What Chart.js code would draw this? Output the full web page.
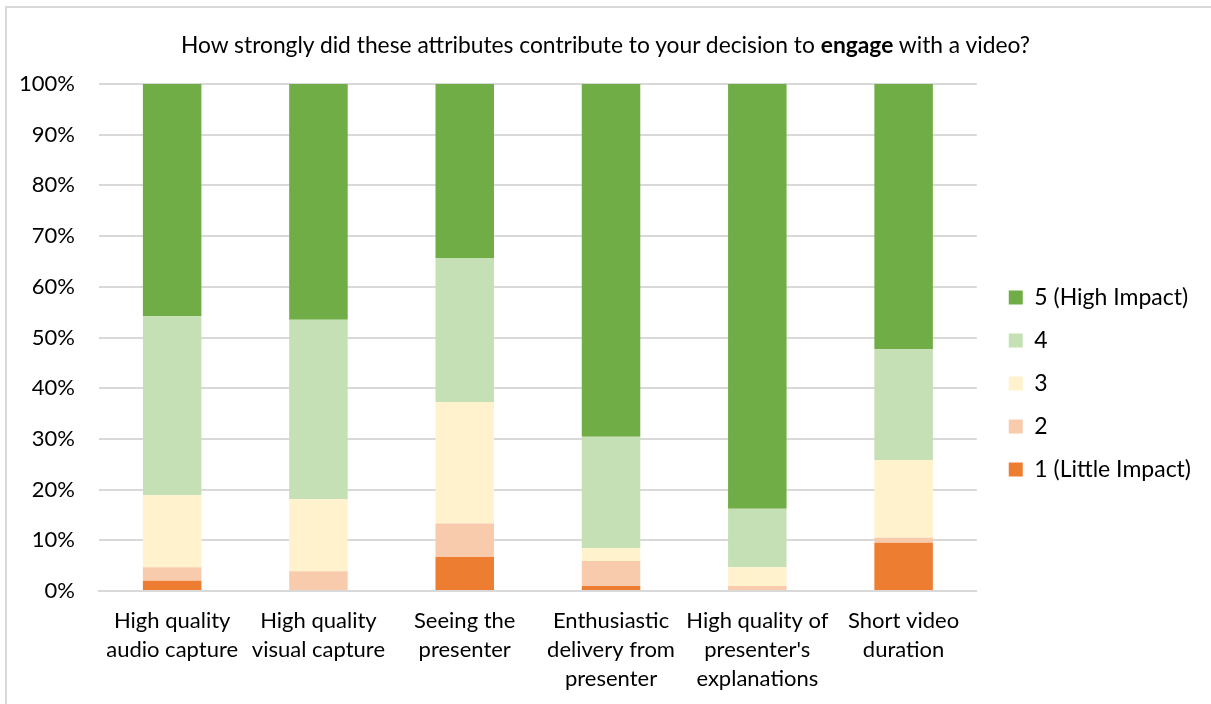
<!DOCTYPE html>
<html lang="en">
<head>
<meta charset="UTF-8">
<title>Engagement attributes</title>
<script src="https://cdn.jsdelivr.net/npm/chart.js"></script>
<style>
  html, body { margin: 0; padding: 0; background: #fff; overflow: hidden; }
  #frame {
    position: absolute; left: 5px; top: 6px; width: 1220px; height: 720px;
    border: 2px solid #D9D9D9; box-sizing: border-box;
  }
  #title {
    position: absolute; left: 0; top: 30px; width: 1211px; text-align: center;
    font-family: Lato, "Noto Sans", sans-serif; font-size: 22.8px; line-height: 28px; color: #000;
  }
  #wrap { position: absolute; left: 0; top: 0; width: 1211px; height: 704px; }
</style>
</head>
<body>
<div id="frame"></div>
<div id="wrap"><canvas id="chart" width="1211" height="704"></canvas></div>
<div id="title">How strongly did these attributes contribute to your decision to <b>engage</b> with a video?</div>
<script>
// categories (multi-line axis labels)
const categories = [
  ['High quality', 'audio capture'],
  ['High quality', 'visual capture'],
  ['Seeing the', 'presenter'],
  ['Enthusiastic', 'delivery from', 'presenter'],
  ['High quality of', "presenter's", 'explanations'],
  ['Short video', 'duration']
];

// share of responses per rating (%)
const rating1 = [2.0, 0, 6.7, 1.0, 0, 9.5];
const rating2 = [2.7, 3.9, 6.6, 4.9, 1.0, 1.0];
const rating3 = [14.2, 14.2, 24.0, 2.6, 3.7, 15.3];
const rating4 = [35.3, 35.4, 28.4, 21.9, 11.5, 21.9];
const rating5 = [45.8, 46.5, 34.3, 69.6, 83.8, 52.3];

const seriesNames = ['1 (Little Impact)', '2', '3', '4', '5 (High Impact)'];
const seriesColors = ['#ED7D31', '#F8CBAD', '#FFF2CC', '#C5E0B4', '#70AD47'];
const yTicks = [0, 10, 20, 30, 40, 50, 60, 70, 80, 90, 100];

const font = 'Lato, "Noto Sans", sans-serif';
const seriesData = [rating1, rating2, rating3, rating4, rating5];

// nudge the legend a bit right and up
const legendShift = {
  id: 'legendShift',
  afterLayout(chart) {
    const lg = chart.legend;
    lg.left += 12; lg.right += 12;
    lg.top -= 5; lg.bottom -= 5;
  }
};

new Chart(document.getElementById('chart'), {
  type: 'bar',
  data: {
    labels: categories,
    datasets: seriesData.map((d, i) => ({
      label: seriesNames[i],
      data: d,
      backgroundColor: seriesColors[i],
      borderWidth: 0,
      barPercentage: 0.4,
      categoryPercentage: 1.0
    }))
  },
  plugins: [legendShift],
  options: {
    responsive: false,
    animation: false,
    layout: { autoPadding: false, padding: { left: 20, right: 22, top: 84, bottom: 11 } },
    plugins: {
      title: { display: false },
      tooltip: { enabled: false },
      legend: {
        position: 'right',
        reverse: true,
        labels: {
          boxWidth: 14, boxHeight: 14, padding: 20,
          color: '#000',
          font: { family: font, size: 23, lineHeight: 1.0 }
        }
      }
    },
    scales: {
      x: {
        stacked: true,
        grid: { display: false, drawTicks: false },
        border: { color: '#D9D9D9', width: 2 },
        afterFit: axis => { axis.height = 102; },
        ticks: {
          color: '#000', maxRotation: 0, autoSkip: false, padding: 15,
          font: { family: font, size: 22, lineHeight: 1.32 }
        }
      },
      y: {
        stacked: true,
        min: 0, max: 100,
        afterBuildTicks: axis => { axis.ticks = yTicks.map(v => ({ value: v })); },
        afterFit: axis => { axis.width = 79; },
        grid: { color: '#D9D9D9', lineWidth: 2, drawTicks: false },
        border: { display: false },
        ticks: {
          color: '#000', padding: 24,
          font: { family: font, size: 22 },
          callback: v => v + '%'
        }
      }
    }
  }
});
</script>
</body>
</html>
